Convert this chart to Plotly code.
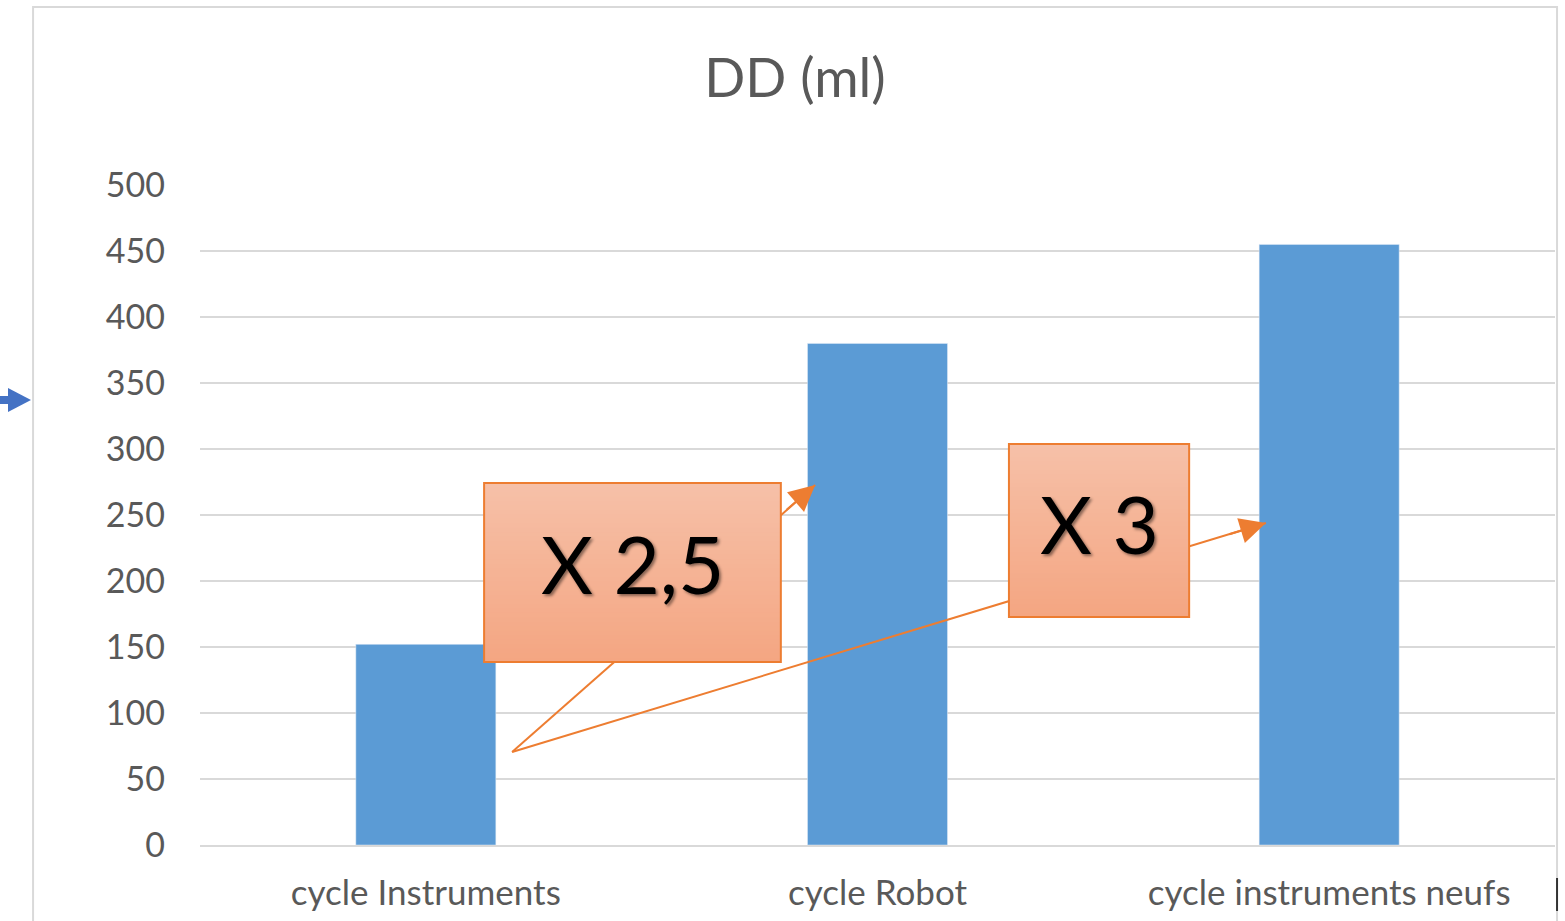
import plotly.graph_objects as go

# ---- data ----
categories = ["cycle Instruments", "cycle Robot", "cycle instruments neufs"]
dd_ml = [152, 380, 455]
y_ticks = [0, 50, 100, 150, 200, 250, 300, 350, 400, 450, 500]
title_text = "DD (ml)"
label_a = "X 2,5"
label_b = "X 3"

FONT = "Lato, 'Open Sans', sans-serif"
GREY = "#595959"
ORANGE = "#ED7D31"

fig = go.Figure()
fig.add_trace(go.Bar(x=categories, y=dd_ml, marker_color="#5B9BD5",
                     width=0.31, hoverinfo="skip"))

# annotation geometry (category index / data value)
box_a = dict(x0=0.129, x1=0.786, y0=138.6, y1=274.2)
box_b = dict(x0=1.291, x1=1.690, y0=172.7, y1=303.8)
arrow_start = (0.191, 70.5)
tip_a = (0.862, 272.7)
tip_b = (1.860, 243.9)

shapes = []
# arrow shafts (below boxes)
for tip in (tip_a, tip_b):
    shapes.append(dict(type="line", xref="x", yref="y",
                       x0=arrow_start[0], y0=arrow_start[1], x1=tip[0], y1=tip[1],
                       line=dict(color=ORANGE, width=2), layer="above"))

def gradient_box(b):
    n = 40
    top = (246, 192, 168)
    bot = (244, 166, 130)
    h = (b["y1"] - b["y0"]) / n
    for i in range(n):
        t = i / (n - 1)
        c = tuple(round(bot[k] + (top[k] - bot[k]) * t) for k in range(3))
        shapes.append(dict(type="rect", xref="x", yref="y", x0=b["x0"], x1=b["x1"],
                           y0=b["y0"] + i * h, y1=b["y1"],
                           fillcolor="rgb(%d,%d,%d)" % c, line=dict(width=0), layer="above"))
    shapes.append(dict(type="rect", xref="x", yref="y", x0=b["x0"], x1=b["x1"],
                       y0=b["y0"], y1=b["y1"], line=dict(color=ORANGE, width=2),
                       fillcolor="rgba(0,0,0,0)", layer="above"))

gradient_box(box_a)
gradient_box(box_b)

# outer chart border
shapes.append(dict(type="rect", xref="paper", yref="paper",
                   x0=-0.1232, x1=1.0015, y0=-0.125, y1=1.2697,
                   line=dict(color="#D9D9D9", width=2), fillcolor="rgba(0,0,0,0)", layer="below"))
shapes.append(dict(type="line", xref="paper", yref="paper",
                   x0=1.0015, x1=1.0015, y0=-0.05, y1=-0.1,
                   line=dict(color="#333333", width=2)))

# blue arrow at the left edge (pixel geometry -> paper coords)
def px(xp):
    return (xp - 200) / 1355

def py(yp):
    return (845 - yp) / 660

BLUE = "#4472C4"
shapes.append(dict(type="rect", xref="paper", yref="paper",
                   x0=px(-2), x1=px(10), y0=py(404), y1=py(396),
                   fillcolor=BLUE, line=dict(width=0)))
shapes.append(dict(type="path", xref="paper", yref="paper",
                   path="M %f,%f L %f,%f L %f,%f Z" % (px(8), py(388), px(8), py(412), px(31), py(400)),
                   fillcolor=BLUE, line=dict(width=0)))

annotations = []
# arrow heads
for tip, (ax, ay) in ((tip_a, (-30, 26)), (tip_b, (-38, 11.6))):
    annotations.append(dict(x=tip[0], y=tip[1], xref="x", yref="y", text="",
                            showarrow=True, ax=ax, ay=ay, arrowhead=2, arrowsize=2.6,
                            arrowwidth=2, arrowcolor=ORANGE, standoff=0))
# box labels
shadow = "2px 2px 3px rgba(0,0,0,0.45)"
annotations.append(dict(x=(box_a["x0"] + box_a["x1"]) / 2, y=214, xref="x", yref="y",
                        text=label_a, showarrow=False,
                        font=dict(family=FONT, size=80, color="black", shadow=shadow)))
annotations.append(dict(x=(box_b["x0"] + box_b["x1"]) / 2, y=244, xref="x", yref="y",
                        text=label_b, showarrow=False,
                        font=dict(family=FONT, size=80, color="black", shadow=shadow)))

fig.update_layout(
    width=1565, height=921,
    margin=dict(l=200, r=10, t=185, b=76, autoexpand=False),
    paper_bgcolor="white", plot_bgcolor="white",
    font=dict(family=FONT, color=GREY),
    showlegend=False,
    title=dict(text=title_text, x=795 / 1565, xanchor="center", xref="container",
               y=1 - 78 / 921, yanchor="middle", yref="container",
               font=dict(family=FONT, size=54, color=GREY)),
    shapes=shapes,
    annotations=annotations,
    bargap=0.69,
)
fig.update_yaxes(range=[0, 500], tickvals=y_ticks, showgrid=True, gridcolor="#D9D9D9",
                 gridwidth=1.5, zeroline=False, showline=False,
                 tickfont=dict(family=FONT, size=34, color=GREY), ticklabelstandoff=34,
                 fixedrange=True)
fig.update_xaxes(showline=True, linecolor="#D9D9D9", linewidth=1.5, showgrid=False,
                 tickfont=dict(family=FONT, size=35, color=GREY), ticklabelstandoff=16,
                 range=[-0.5, 2.5], fixedrange=True)

fig.write_html("out.html", config={"displayModeBar": False},
               post_script="document.body.style.margin='0';document.body.style.overflow='hidden';")
